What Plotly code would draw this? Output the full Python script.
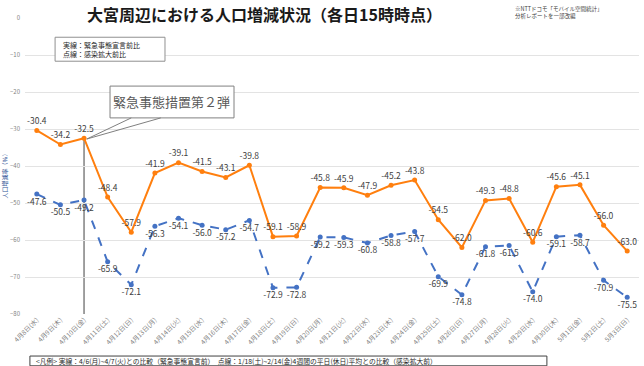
import plotly.graph_objects as go

dates = ["4月8日(水)", "4月9日(木)", "4月10日(金)", "4月11日(土)", "4月12日(日)", "4月13日(月)",
         "4月14日(火)", "4月15日(水)", "4月16日(木)", "4月17日(金)", "4月18日(土)", "4月19日(日)",
         "4月20日(月)", "4月21日(火)", "4月22日(水)", "4月23日(木)", "4月24日(金)", "4月25日(土)",
         "4月26日(日)", "4月27日(月)", "4月28日(火)", "4月29日(水)", "4月30日(木)", "5月1日(金)",
         "5月2日(土)", "5月3日(日)"]
vs_pre_emergency = [-30.4, -34.2, -32.5, -48.4, -57.9, -41.9, -39.1, -41.5, -43.1, -39.8, -59.1, -58.9,
                    -45.8, -45.9, -47.9, -45.2, -43.8, -54.5, -62.0, -49.3, -48.8, -60.6, -45.6, -45.1,
                    -56.0, -63.0]
vs_pre_spread = [-47.6, -50.5, -49.2, -65.9, -72.1, -56.3, -54.1, -56.0, -57.2, -54.7, -72.9, -72.8,
                 -59.2, -59.3, -60.8, -58.8, -57.7, -69.9, -74.8, -61.8, -61.5, -74.0, -59.1, -58.7,
                 -70.9, -75.5]
y_ticks = [0, -10, -20, -30, -40, -50, -60, -70, -80]

FONT = "Noto Sans CJK JP"
ORANGE = "#FF7F0E"
BLUE = "#4472C4"
xi = list(range(len(dates)))

fig = go.Figure()
fig.add_trace(go.Scatter(
    x=xi, y=vs_pre_spread, mode="lines+markers+text",
    line=dict(color=BLUE, width=2, dash="dash"),
    marker=dict(color=BLUE, size=5),
    text=[f"{v:.1f}" for v in vs_pre_spread], textposition="bottom center",
    textfont=dict(size=8.5, color="#404040", family=FONT),
    cliponaxis=False, showlegend=False, hoverinfo="skip"))
fig.add_trace(go.Scatter(
    x=xi, y=vs_pre_emergency, mode="lines+markers+text",
    line=dict(color=ORANGE, width=2),
    marker=dict(color=ORANGE, size=5),
    text=[f"{v:.1f}" for v in vs_pre_emergency], textposition="top center",
    textfont=dict(size=8.5, color="#404040", family=FONT),
    cliponaxis=False, showlegend=False, hoverinfo="skip"))

# event index (緊急事態措置第2弾 on 4/10)
ev = 2
shapes = [
    dict(type="line", xref="x", yref="y", x0=ev, x1=ev, y0=vs_pre_emergency[ev], y1=-80,
         line=dict(color="#808080", width=1.5), layer="below"),
    dict(type="rect", xref="paper", yref="paper", x0=0.08, x1=1.02, y0=0.96, y1=1.1,
         fillcolor="white", line=dict(width=0), layer="above"),
    dict(type="rect", xref="paper", yref="paper", x0=0.049, x1=0.228, y0=0.854, y1=0.935,
         fillcolor="white", line=dict(color="#909090", width=1), layer="above"),
    dict(type="rect", xref="x", yref="y", x0=3.1, x1=8.35, y0=-18.4, y1=-27.0,
         fillcolor="white", line=dict(color="#808080", width=1), layer="above"),
    dict(type="path", xref="x", yref="y",
         path=f"M 4.0,-27.0 L {ev + 0.12},{vs_pre_emergency[ev] - 0.2} L 5.25,-27.0",
         line=dict(color="#808080", width=1), layer="above"),
    dict(type="rect", xref="paper", yref="paper", x0=0.008, x1=0.850, y0=-0.175, y1=-0.142,
         fillcolor="white", line=dict(color="#404040", width=1), layer="above"),
]

annotations = [
    dict(text="<b>大宮周辺における人口増減状況（各日15時時点）</b>", xref="paper", yref="paper",
         x=0.39, y=1.013, xanchor="center", yanchor="middle", showarrow=False,
         font=dict(size=16, color="#1a1a1a", family=FONT)),
    dict(text="※NTTドコモ「モバイル空間統計」<br>分析レポートを一部改編", xref="paper", yref="paper",
         x=0.795, y=1.02, xanchor="left", yanchor="middle", showarrow=False, align="left",
         font=dict(size=5.5, color="#404040", family=FONT)),
    dict(text="実線：緊急事態宣言前比<br>点線：感染拡大前比", xref="paper", yref="paper",
         x=0.058, y=0.895, xanchor="left", yanchor="middle", showarrow=False, align="left",
         font=dict(size=7, color="#262626", family=FONT)),
    dict(text="緊急事態措置第２弾", xref="x", yref="y", x=5.72, y=-22.7,
         xanchor="center", yanchor="middle", showarrow=False,
         font=dict(size=13, color="#595959", family=FONT)),
    dict(text="<凡例> 実線：4/6(月)~4/7(火)との比較（緊急事態宣言前）　点線：1/18(土)~2/14(金)4週間の平日(休日)平均との比較（感染拡大前）",
         xref="paper", yref="paper", x=0.015, y=-0.159, xanchor="left", yanchor="middle",
         showarrow=False, font=dict(size=6.8, color="#262626", family=FONT)),
    dict(text="人口増減率（％）", xref="paper", yref="paper", x=-0.033, y=0.47, textangle=-90,
         xanchor="center", yanchor="middle", showarrow=False,
         font=dict(size=6, color="#2F5597", family=FONT)),
]

fig.update_layout(
    width=644, height=366,
    margin=dict(l=25, r=5, t=18, b=52),
    paper_bgcolor="white", plot_bgcolor="white",
    font=dict(family=FONT, color="#595959"),
    shapes=shapes, annotations=annotations, hovermode=False,
    xaxis=dict(tickmode="array", tickvals=xi, ticktext=dates, range=[-0.5, len(dates) - 0.5],
               tickangle=-45, tickfont=dict(size=6.5, color="#7f7f7f"), automargin=False,
               showgrid=False, zeroline=False, showline=False, ticks=""),
    yaxis=dict(range=[-80, 0], tickvals=y_ticks, tickfont=dict(size=6, color="#7f7f7f"),
               showgrid=True, gridcolor="#e3e3e3", gridwidth=1, zeroline=False, automargin=False,
               showline=False, ticks="", ticklabelstandoff=4),
)

fig.write_html("out.html", config={"displayModeBar": False, "staticPlot": True},
               post_script="document.body.style.margin='0px';document.body.style.overflow='hidden';")
